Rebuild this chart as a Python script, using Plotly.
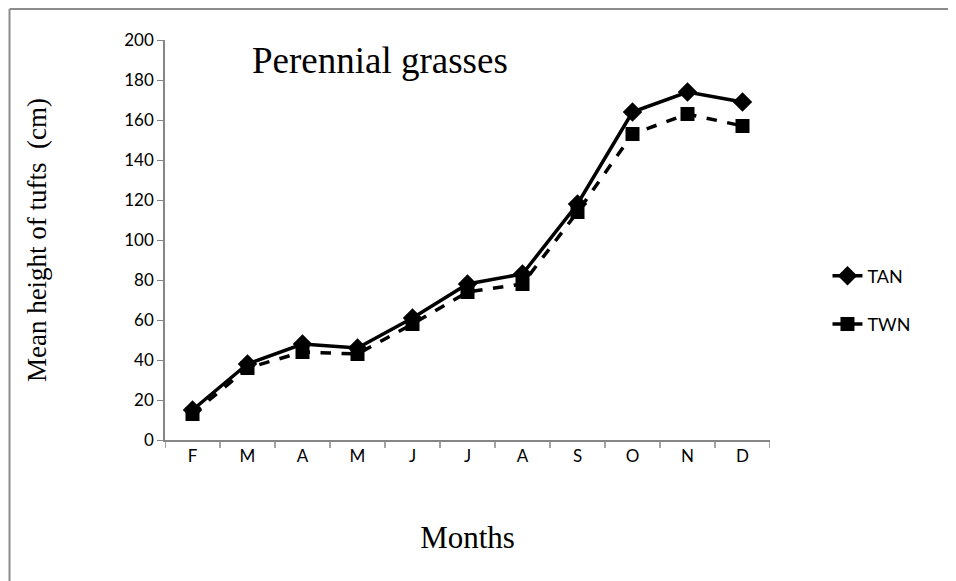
import plotly.graph_objects as go

months = ["F", "M", "A", "M", "J", "J", "A", "S", "O", "N", "D"]
tan_height = [15, 38, 48, 46, 61, 78, 83, 118, 164, 174, 169]
twn_height = [13, 36, 44, 43, 58, 74, 78, 114, 153, 163, 157]

# unique category positions (month letters repeat)
x_pos = list(range(len(months)))

fig = go.Figure()
fig.add_trace(go.Scatter(
    x=x_pos, y=tan_height, name="TAN", mode="lines+markers",
    line=dict(color="black", width=3.5),
    marker=dict(symbol="diamond", size=15, color="black"),
    legendgroup="a",
))
fig.add_trace(go.Scatter(
    x=x_pos, y=twn_height, name="TWN", mode="lines+markers",
    line=dict(color="black", width=3.5, dash="dash"),
    marker=dict(symbol="square", size=14, color="black"),
    legendgroup="b",
))

# page body adds an 8px offset, so the figure is 8px smaller
fig.update_layout(
    width=948, height=573,
    margin=dict(l=157, r=186, t=32, b=141),
    paper_bgcolor="white", plot_bgcolor="white",
    showlegend=True,
    legend=dict(x=1.095, y=0.35, xanchor="left", yanchor="middle",
                font=dict(family="Lato", size=18, color="black"),
                tracegroupgap=22, bgcolor="rgba(0,0,0,0)"),
    xaxis=dict(
        range=[-0.5, len(months) - 0.5],
        tickmode="array", tickvals=x_pos, ticktext=months,
        showline=True, linecolor="#868686", linewidth=1.5,
        showgrid=False, zeroline=False,
        ticks="", tickfont=dict(family="Lato", size=17, color="black"),
        title=dict(text="Months", font=dict(family="Liberation Serif", size=31, color="black"),
                   standoff=61),
    ),
    yaxis=dict(
        range=[0, 200], dtick=20,
        showline=True, linecolor="#868686", linewidth=1.5,
        showgrid=False, zeroline=False,
        ticks="outside", ticklen=6, tickcolor="#868686",
        tickfont=dict(family="Lato", size=17, color="black"),
        title=dict(text="Mean height of tufts  (cm)",
                   font=dict(family="Liberation Serif", size=27, color="black"),
                   standoff=70),
    ),
)

# x ticks at category boundaries
for i in range(len(months) + 1):
    fig.add_shape(type="line", xref="x", yref="paper",
                  x0=i - 0.5, x1=i - 0.5, y0=0, y1=-0.02,
                  line=dict(color="#868686", width=1.5))

fig.add_annotation(text="Perennial grasses", xref="paper", yref="paper",
                   x=0.14, y=0.95, xanchor="left", yanchor="middle", showarrow=False,
                   font=dict(family="Liberation Serif", size=37, color="black"))

# outer chart frame (only left and top edges are visible in the crop)
frame = dict(color="#8c8c8c", width=2)
fig.add_shape(type="line", xref="paper", yref="paper",
              x0=-0.257, x1=-0.257, y0=-0.6, y1=1.0775, line=frame, layer="below")
fig.add_shape(type="line", xref="paper", yref="paper",
              x0=-0.257, x1=1.4, y0=1.0775, y1=1.0775, line=frame, layer="below")

fig.write_html("out.html")
